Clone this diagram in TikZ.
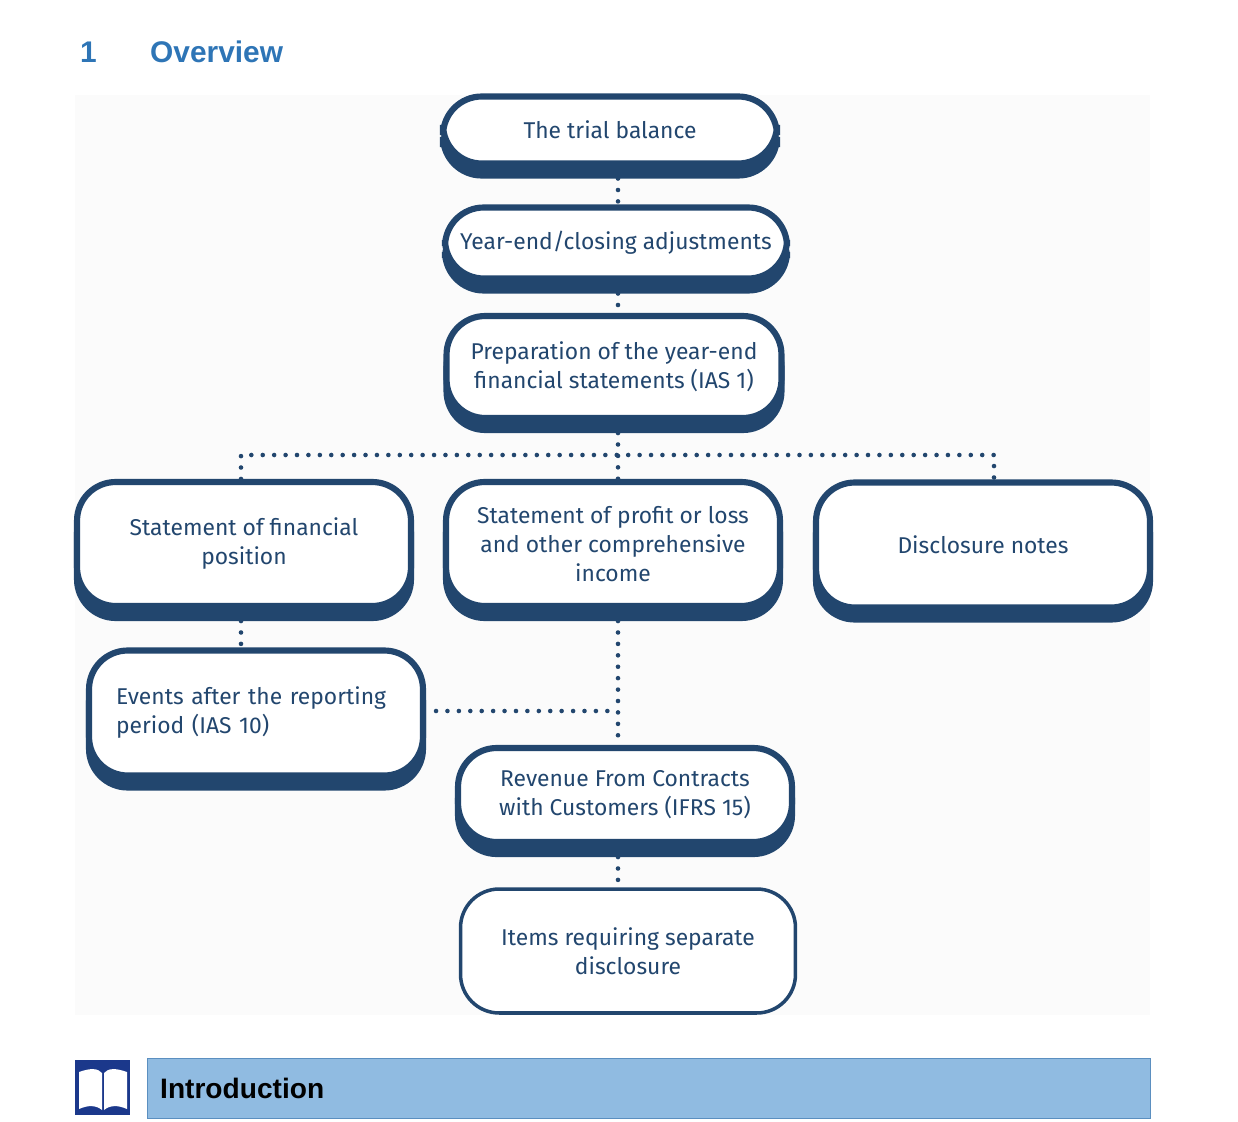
\documentclass[tikz,border=0pt]{standalone}
\usepackage{fontspec}
\setmainfont{Fira Sans}
\newfontfamily\headfont{Liberation Sans}
\usetikzlibrary{shadows,positioning}
\definecolor{navy}{HTML}{22466E}
\definecolor{headblue}{HTML}{2E75B6}
\definecolor{barblue}{HTML}{90BBE1}
\definecolor{barline}{HTML}{5B8FC0}
\begin{document}
\begin{tikzpicture}[x=0.02cm,y=-0.02cm]
\tikzset{
  box/.style={draw=navy,line width=3.5pt,fill=white,rounded corners=22pt,
    text=navy,align=center,font=\fontsize{13}{16.5}\selectfont,
    minimum width=6.68cm,inner sep=0pt},
  sbox/.style={box,copy shadow={shadow xshift=0pt,shadow yshift=-0.24cm,fill=navy,draw=navy}},
  dots/.style={navy,line width=2.6pt,line cap=round,dash pattern=on 0pt off 6.5pt}
}
\useasboundingbox (0,0) rectangle (1238,1122);
\fill[black!1.5] (75,95) rectangle (1150,1015);
\node[anchor=west,text=headblue,font=\headfont\bfseries\fontsize{17}{20}\selectfont] (num) at (74,52) {1};
\node[anchor=west,text=headblue,font=\headfont\bfseries\fontsize{17}{20}\selectfont] (title) at (144,52) {Overview};
% boxes
\node[sbox,minimum height=1.34cm] (tb)   at (610,130) {The trial balance};
\node[sbox,minimum height=1.42cm,minimum width=6.84cm] (ye) at (616,243) {Year-end/closing adjustments};
\node[sbox,minimum height=2.04cm,minimum width=6.7cm] (prep) at (614,367) {Preparation of the year-end\\financial statements (IAS 1)};
\node[sbox,minimum height=2.48cm] (sfp)  at (244,544) {Statement of financial\\position};
\node[sbox,minimum height=2.48cm] (spl)  at (613,544) {Statement of profit or loss\\and other comprehensive\\income};
\node[sbox,minimum height=2.5cm] (disc) at (983,545) {Disclosure notes};
\node[sbox,minimum height=2.5cm,align=left,text width=5.6cm] (ev) at (256,713) {Events after the reporting\\period (IAS 10)};
\node[sbox,minimum height=1.88cm] (rev)  at (625,795) {Revenue From Contracts\\with Customers (IFRS 15)};
\node[box,line width=2pt,minimum height=2.48cm,minimum width=6.7cm] (items) at (628,951) {Items requiring separate\\disclosure};
% connectors
\coordinate (hub) at (618,455);
\coordinate (hubL) at (241,455);
\coordinate (hubR) at (994,455);
\coordinate (join) at (618,711);
\draw[dots] ([yshift=-0.24cm]tb.south -| hub) -- (ye.north -| hub);
\draw[dots] ([yshift=-0.24cm]ye.south -| hub) -- (prep.north -| hub);
\draw[dots] ([yshift=-0.24cm]prep.south -| hub) -- (spl.north -| hub);
\draw[dots] (sfp.north -| hubL) -- (hubL) -- (hubR) -- (disc.north -| hubR);
\draw[dots] ([yshift=-0.24cm]sfp.south -| hubL) -- (ev.north -| hubL);
\draw[dots] ([yshift=-0.24cm]spl.south -| hub) -- (rev.north -| hub);
\draw[dots] ([xshift=0.2cm]ev.east |- join) -- (join);
\draw[dots] ([yshift=-0.24cm]rev.south -| hub) -- (items.north -| hub);
% introduction bar
\node[draw=barline,fill=barblue,minimum width=20.06cm,minimum height=1.2cm,anchor=north west,inner sep=0pt] (bar) at (147,1058) {};
\node[anchor=west,font=\headfont\bfseries\fontsize{16}{19}\selectfont] (intro) at (154,1088) {Introduction};
\node[fill=navy!80!blue,minimum size=1.1cm,anchor=north west,inner sep=0pt] (icon) at (75,1060) {};
\fill[white] (79,1109) -- (79,1072) .. controls (90,1068) and (98,1068) .. (102,1073) -- (102,1110) .. controls (96,1105) and (88,1105) .. (79,1109) -- cycle;
\fill[white] (104,1073) .. controls (108,1068) and (116,1068) .. (127,1072) -- (127,1109) .. controls (118,1105) and (110,1105) .. (104,1110) -- cycle;
\end{tikzpicture}
\end{document}
